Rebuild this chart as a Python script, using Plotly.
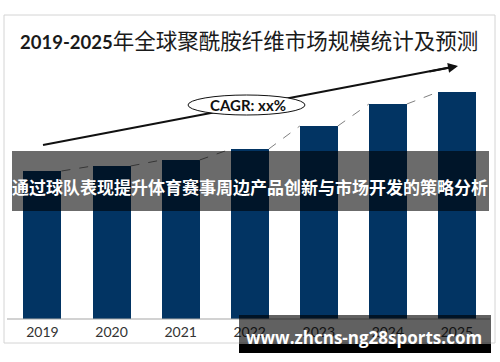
import plotly.graph_objects as go

# ---- data ----
years = ["2019", "2020", "2021", "2022", "2023", "2024", "2025"]
market_size = [148, 153, 159, 170, 193, 215, 227]  # relative bar heights
title_digits = "2019-2025"
title_cn = "年全球聚酰胺纤维市场规模统计及预测"
cagr_label = "CAGR: xx%"
banner_text = "通过球队表现提升体育赛事周边产品创新与市场开发的策略分析"
watermark_text = "www.zhcns-ng28sports.com"

W, H = 500, 362
BAR_W = 0.55
BAR_COLOR = "#023463"


def px(x):
    return x / W


def py(y):
    return 1 - y / H


xs = list(range(len(years)))

fig = go.Figure()
fig.add_trace(go.Bar(
    x=xs, y=market_size, width=BAR_W,
    marker=dict(color=BAR_COLOR, line=dict(width=0)),
    hoverinfo="skip", showlegend=False,
))

# dashed connectors between bar tops
for i in range(len(xs) - 1):
    fig.add_trace(go.Scatter(
        x=[xs[i] + BAR_W / 2, xs[i + 1] - BAR_W / 2],
        y=[market_size[i], market_size[i + 1]],
        mode="lines", line=dict(color="#7f7f7f", width=1, dash="dash"),
        hoverinfo="skip", showlegend=False,
    ))

# year labels (as a text trace so overlays can cover them)
fig.add_trace(go.Scatter(
    x=xs, y=[-14] * len(xs), mode="text", text=years,
    textfont=dict(family="Lato", size=14, color="#333333"),
    textposition="middle center", hoverinfo="skip", showlegend=False,
))

shapes = []
# outer frame
shapes.append(dict(type="rect", xref="paper", yref="paper",
                   x0=px(4), x1=px(495), y0=py(343), y1=py(15),
                   line=dict(color="#d4d4d4", width=1), fillcolor="rgba(0,0,0,0)", layer="below"))
# baseline
shapes.append(dict(type="line", xref="paper", yref="y",
                   x0=px(7), x1=px(490), y0=0, y1=0,
                   line=dict(color="#a6a6a6", width=1.2)))
# trend arrow body
shapes.append(dict(type="line", xref="paper", yref="paper",
                   x0=px(43), y0=py(145), x1=px(452), y1=py(67),
                   line=dict(color="#111111", width=2)))
# CAGR ellipse
shapes.append(dict(type="circle", xref="paper", yref="paper",
                   x0=px(188), x1=px(305), y0=py(115), y1=py(95),
                   line=dict(color="#111111", width=1), fillcolor="white"))
# banner overlay
shapes.append(dict(type="rect", xref="paper", yref="paper",
                   x0=px(12), x1=px(489), y0=py(211), y1=py(151),
                   line=dict(width=0), fillcolor="rgba(0,0,0,0.58)", layer="above"))
# watermark box
shapes.append(dict(type="rect", xref="paper", yref="paper",
                   x0=px(239), x1=px(491), y0=py(344), y1=py(315),
                   line=dict(width=0), fillcolor="rgba(0,0,0,0.62)", layer="above"))
shapes.append(dict(type="rect", xref="paper", yref="paper",
                   x0=px(239), x1=px(491), y0=py(353), y1=py(344),
                   line=dict(width=0), fillcolor="#000000", layer="above"))

annotations = []
# title
annotations.append(dict(
    x=px(249), y=py(40), xref="paper", yref="paper", xanchor="center", yanchor="middle",
    showarrow=False,
    text=(f"<span style='font-family:Lato;font-size:18.5px'><b>{title_digits}</b></span>"
          f"{title_cn}"),
    font=dict(family="Noto Sans CJK SC", size=21.5, color="#1a1a1a"),
))
# arrowhead
annotations.append(dict(
    x=px(458), y=py(66), xref="paper", yref="paper", text="", showarrow=True,
    ax=-30, ay=5.7, arrowhead=2, arrowsize=1, arrowwidth=2, arrowcolor="#111111",
))
# CAGR text
annotations.append(dict(
    x=px(248), y=py(105), xref="paper", yref="paper", showarrow=False,
    xanchor="center", yanchor="middle",
    text=f"<b>{cagr_label}</b>", font=dict(family="Lato", size=15, color="#111111"),
))
# banner text
annotations.append(dict(
    x=px(250), y=py(186), xref="paper", yref="paper", showarrow=False,
    xanchor="center", yanchor="middle",
    text=f"<b>{banner_text}</b>",
    font=dict(family="Noto Sans CJK SC", size=17, color="white"),
))
# watermark text
annotations.append(dict(
    x=px(364), y=py(337), xref="paper", yref="paper", showarrow=False,
    xanchor="center", yanchor="middle",
    text=f"<b>{watermark_text}</b>",
    font=dict(family="Open Sans", size=17, color="white"),
))

fig.update_layout(
    width=W, height=H, autosize=False,
    margin=dict(l=0, r=0, t=0, b=0, pad=0),
    paper_bgcolor="white", plot_bgcolor="white",
    xaxis=dict(range=[-0.615, 6.623], visible=False, fixedrange=True),
    yaxis=dict(range=[-43, 319], visible=False, fixedrange=True),
    shapes=shapes, annotations=annotations,
    bargap=0,
)

fig.write_html("out.html", config={"displayModeBar": False},
               post_script="document.body.style.margin='0';document.body.style.overflow='hidden';")
